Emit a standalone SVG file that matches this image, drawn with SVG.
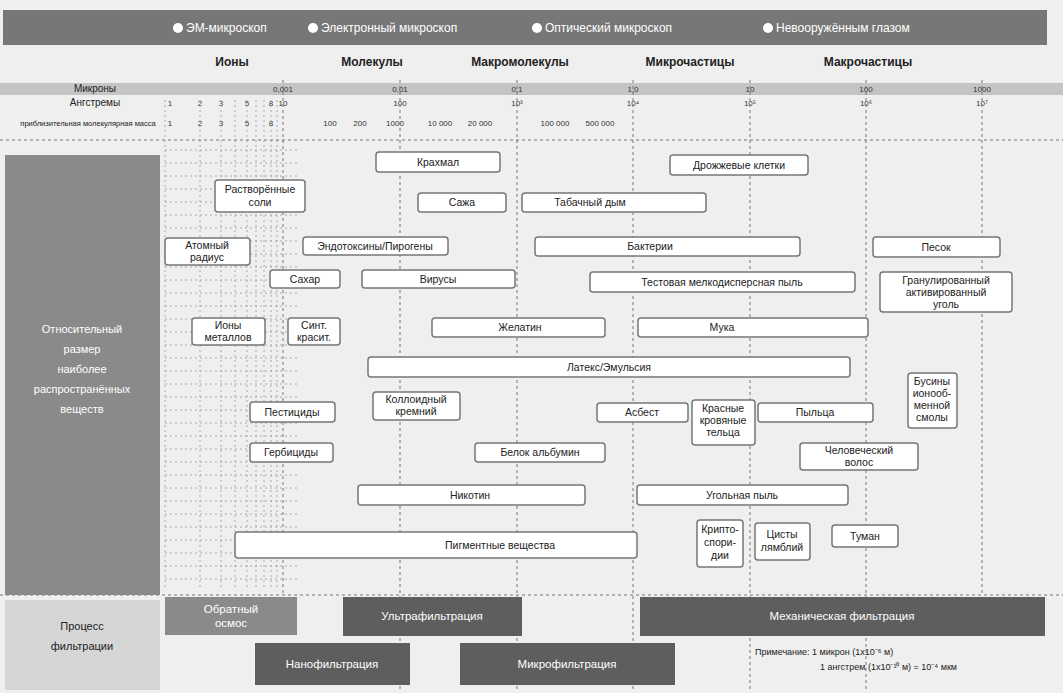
<svg xmlns="http://www.w3.org/2000/svg" width="1063" height="693" viewBox="0 0 1063 693">
<style>
text{font-family:"Liberation Sans",Arial,sans-serif;fill:#222}
.b rect{fill:#fff;stroke:#777;stroke-width:1.5}
.b text{font-size:10.5px;text-anchor:middle}
.hd{font-size:12px;font-weight:bold;text-anchor:middle}
.tb{font-size:12px;fill:#fff}
.p rect{fill:#5e5e5e}
.p text{fill:#fff;font-size:11.5px;text-anchor:middle}
.sc{font-size:8px;text-anchor:middle;fill:#333}
.g{stroke:#777;stroke-width:1;stroke-dasharray:3 3;fill:none}
.m{stroke:#999;stroke-width:0.8;stroke-dasharray:2 3;fill:none}
.lp{font-size:11px;text-anchor:middle;fill:#fff}
</style>
<rect width="1063" height="693" fill="#efefef"/>
<g id="topbar">
<rect x="3" y="10" width="1044" height="35" fill="#777"/>
<circle cx="178" cy="28" r="5" fill="#fff"/><text class="tb" x="186" y="32">ЭМ-микроскоп</text>
<circle cx="313" cy="28" r="5" fill="#fff"/><text class="tb" x="321" y="32">Электронный микроскоп</text>
<circle cx="537" cy="28" r="5" fill="#fff"/><text class="tb" x="545" y="32">Оптический микроскоп</text>
<circle cx="768" cy="28" r="5" fill="#fff"/><text class="tb" x="776" y="32">Невооружённым глазом</text>
</g>
<g id="headers">
<text class="hd" x="232" y="66">Ионы</text>
<text class="hd" x="372" y="66">Молекулы</text>
<text class="hd" x="520" y="66">Макромолекулы</text>
<text class="hd" x="690" y="66">Микрочастицы</text>
<text class="hd" x="868" y="66">Макрочастицы</text>
</g>
<g id="scale">
<rect x="0" y="83" width="1063" height="12" fill="#c4c4c4"/>
<text x="95" y="92" font-size="10" text-anchor="middle">Микроны</text>
<text x="95" y="106" font-size="10" text-anchor="middle">Ангстремы</text>
<text x="88" y="126" font-size="7.5" text-anchor="middle">приблизительная молекулярная масса</text>
<text class="sc" x="283" y="92">0,001</text><text class="sc" x="400" y="92">0,01</text><text class="sc" x="517" y="92">0,1</text><text class="sc" x="633" y="92">1,0</text><text class="sc" x="750" y="92">10</text><text class="sc" x="866" y="92">100</text><text class="sc" x="982" y="92">1000</text>
<text class="sc" x="283" y="106">10</text><text class="sc" x="400" y="106">100</text><text class="sc" x="517" y="106">10³</text><text class="sc" x="633" y="106">10⁴</text><text class="sc" x="750" y="106">10⁵</text><text class="sc" x="866" y="106">10⁶</text><text class="sc" x="982" y="106">10⁷</text>
<text class="sc" x="170" y="106">1</text><text class="sc" x="200" y="106">2</text><text class="sc" x="221" y="106">3</text><text class="sc" x="247" y="106">5</text><text class="sc" x="271" y="106">8</text>
<text class="sc" x="170" y="126">1</text><text class="sc" x="200" y="126">2</text><text class="sc" x="221" y="126">3</text><text class="sc" x="247" y="126">5</text><text class="sc" x="271" y="126">8</text>
<text class="sc" x="330" y="126">100</text><text class="sc" x="360" y="126">200</text><text class="sc" x="395" y="126">1000</text><text class="sc" x="440" y="126">10 000</text><text class="sc" x="480" y="126">20 000</text><text class="sc" x="555" y="126">100 000</text><text class="sc" x="600" y="126">500 000</text>
</g>
<g id="grid">
<path class="m" d="M165 100V590M200 100V590M221 100V590M235 100V590M247 100V590M256 100V590M264 100V590M271 100V590M277 100V590"/>
<path class="m" d="M165 150H300M165 163H300M165 176H300M165 189H300M165 202H300M165 215H300M165 228H300M165 241H300M165 254H300M165 267H300M165 280H300M165 293H300M165 306H300M165 319H300M165 332H300M165 345H300M165 358H300M165 371H300M165 384H300M165 397H300M165 410H300M165 423H300M165 436H300M165 449H300M165 462H300M165 475H300M165 488H300M165 501H300M165 514H300M165 527H300M165 540H300M165 553H300M165 566H300M165 579H300"/>
<path class="g" d="M283 80V595M400 80V690M517 80V690M633 80V690M750 80V690M866 80V690M982 80V595"/>
<path class="g" d="M0 140H1063M0 595H1063"/>
</g>
<g id="leftpanel">
<rect x="5" y="155" width="155" height="440" fill="#8a8a8a"/>
<text class="lp" x="82" y="333">Относительный</text>
<text class="lp" x="82" y="353">размер</text>
<text class="lp" x="82" y="373">наиболее</text>
<text class="lp" x="82" y="393">распространённых</text>
<text class="lp" x="82" y="413">веществ</text>
</g>
<g class="b">
<g id="n-krahmal"><rect x="376" y="152" width="124" height="20" rx="3"/><text x="438" y="166">Крахмал</text></g>
<g id="n-soli"><rect x="215" y="180" width="90" height="32" rx="3"/><text x="260" y="193">Растворённые</text><text x="260" y="206">соли</text></g>
<g id="n-sazha"><rect x="418" y="193" width="88" height="19" rx="3"/><text x="462" y="206">Сажа</text></g>
<g id="n-dym"><rect x="522" y="193" width="184" height="19" rx="3"/><text x="590" y="206">Табачный дым</text></g>
<g id="n-drozh"><rect x="670" y="155" width="138" height="20" rx="3"/><text x="739" y="169">Дрожжевые клетки</text></g>
<g id="n-atom"><rect x="165" y="238" width="85" height="27" rx="3"/><text x="207" y="249">Атомный</text><text x="207" y="261">радиус</text></g>
<g id="n-endo"><rect x="303" y="237" width="145" height="18" rx="3"/><text x="375" y="250">Эндотоксины/Пирогены</text></g>
<g id="n-bakt"><rect x="535" y="237" width="265" height="19" rx="3"/><text x="650" y="250">Бактерии</text></g>
<g id="n-pesok"><rect x="873" y="237" width="127" height="20" rx="3"/><text x="936" y="251">Песок</text></g>
<g id="n-sahar"><rect x="270" y="270" width="70" height="18" rx="3"/><text x="305" y="283">Сахар</text></g>
<g id="n-virus"><rect x="362" y="270" width="153" height="18" rx="3"/><text x="438" y="283">Вирусы</text></g>
<g id="n-pyl"><rect x="590" y="272" width="265" height="20" rx="3"/><text x="722" y="286">Тестовая мелкодисперсная пыль</text></g>
<g id="n-ugol"><rect x="880" y="272" width="132" height="40" rx="3"/><text x="946" y="284">Гранулированный</text><text x="946" y="296">активированный</text><text x="946" y="308">уголь</text></g>
<g id="n-ion"><rect x="192" y="318" width="73" height="27" rx="3"/><text x="228" y="329">Ионы</text><text x="228" y="341">металлов</text></g>
<g id="n-sint"><rect x="288" y="318" width="52" height="27" rx="3"/><text x="314" y="329">Синт.</text><text x="314" y="341">красит.</text></g>
<g id="n-zhel"><rect x="432" y="318" width="173" height="19" rx="3"/><text x="520" y="331">Желатин</text></g>
<g id="n-muka"><rect x="638" y="318" width="230" height="19" rx="3"/><text x="722" y="331">Мука</text></g>
<g id="n-latex"><rect x="368" y="357" width="482" height="20" rx="3"/><text x="609" y="371">Латекс/Эмульсия</text></g>
<g id="n-pest"><rect x="250" y="402" width="85" height="20" rx="3"/><text x="292" y="416">Пестициды</text></g>
<g id="n-gerb"><rect x="250" y="443" width="83" height="19" rx="3"/><text x="291" y="456">Гербициды</text></g>
<g id="n-koll"><rect x="373" y="392" width="87" height="28" rx="3"/><text x="416" y="403">Коллоидный</text><text x="416" y="415">кремний</text></g>
<g id="n-alb"><rect x="475" y="443" width="130" height="19" rx="3"/><text x="540" y="456">Белок альбумин</text></g>
<g id="n-asb"><rect x="597" y="403" width="91" height="19" rx="3"/><text x="642" y="416">Асбест</text></g>
<g id="n-krov"><rect x="692" y="400" width="63" height="45" rx="3"/><text x="723" y="412">Красные</text><text x="723" y="424">кровяные</text><text x="723" y="436">тельца</text></g>
<g id="n-pylca"><rect x="758" y="403" width="115" height="19" rx="3"/><text x="815" y="416">Пыльца</text></g>
<g id="n-smola"><rect x="908" y="373" width="49" height="55" rx="3"/><text x="932" y="385">Бусины</text><text x="932" y="397">ионооб-</text><text x="932" y="409">менной</text><text x="932" y="421">смолы</text></g>
<g id="n-volos"><rect x="800" y="443" width="118" height="27" rx="3"/><text x="859" y="454">Человеческий</text><text x="859" y="466">волос</text></g>
<g id="n-ugpyl"><rect x="637" y="485" width="211" height="20" rx="3"/><text x="742" y="499">Угольная пыль</text></g>
<g id="n-nikot"><rect x="358" y="485" width="227" height="20" rx="3"/><text x="470" y="499">Никотин</text></g>
<g id="n-pigm"><rect x="235" y="532" width="402" height="26" rx="3"/><text x="500" y="549">Пигментные вещества</text></g>
<g id="n-kripto"><rect x="697" y="520" width="46" height="47" rx="3"/><text x="720" y="533">Крипто-</text><text x="720" y="546">спори-</text><text x="720" y="559">дии</text></g>
<g id="n-lyambl"><rect x="755" y="523" width="55" height="37" rx="3"/><text x="782" y="538">Цисты</text><text x="782" y="551">лямблий</text></g>
<g id="n-tuman"><rect x="832" y="525" width="66" height="22" rx="3"/><text x="865" y="540">Туман</text></g>
</g>
<g id="process">
<rect x="5" y="600" width="155" height="90" fill="#d6d6d6"/>
<text x="82" y="630" font-size="11" text-anchor="middle">Процесс</text>
<text x="82" y="650" font-size="11" text-anchor="middle">фильтрации</text>
<g class="p">
<g id="p-ro"><rect x="165" y="597" width="132" height="38" style="fill:#8a8a8a"/><text x="231" y="613">Обратный</text><text x="231" y="627">осмос</text></g>
<g id="p-uf"><rect x="343" y="597" width="179" height="39"/><text x="432" y="620">Ультрафильтрация</text></g>
<g id="p-mech"><rect x="640" y="597" width="405" height="39"/><text x="842" y="620">Механическая фильтрация</text></g>
<g id="p-nf"><rect x="255" y="643" width="155" height="42"/><text x="332" y="668">Нанофильтрация</text></g>
<g id="p-mf"><rect x="460" y="643" width="215" height="42"/><text x="567" y="668">Микрофильтрация</text></g>
</g>
<text x="755" y="655" font-size="9">Примечание: 1 микрон (1х10⁻⁶ м)</text>
<text x="820" y="670" font-size="9">1 ангстрем (1х10⁻¹⁰ м) = 10⁻⁴ мкм</text>
</g>
</svg>
